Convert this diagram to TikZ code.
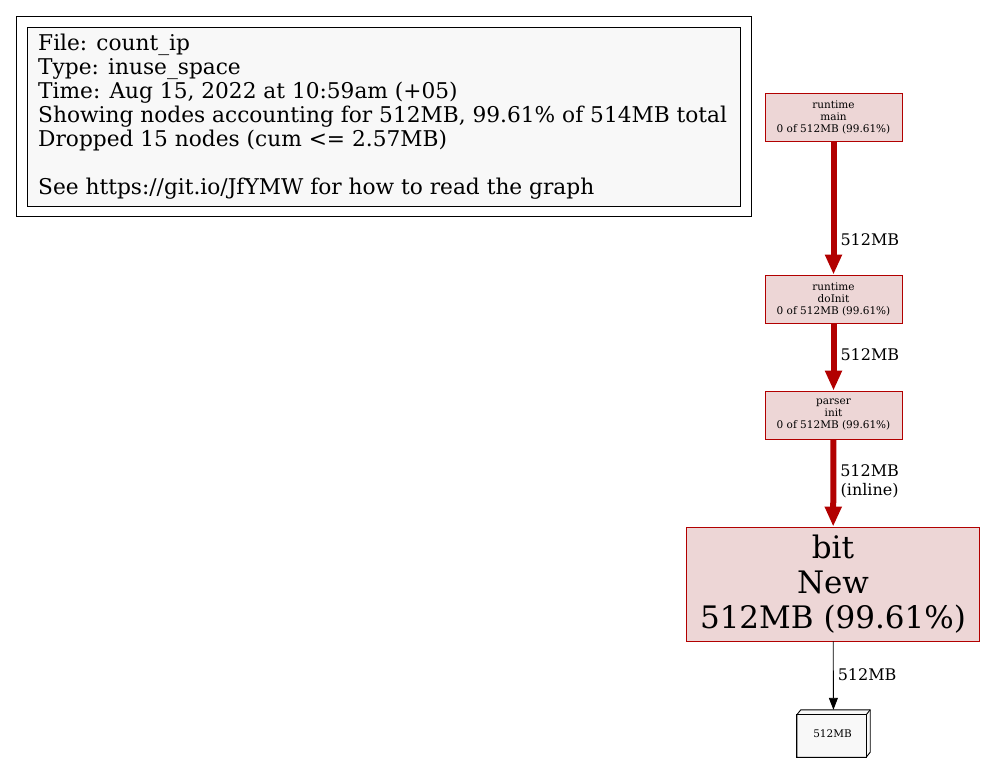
\documentclass[tikz,border=0pt]{standalone}
\usepackage{fontspec}
\setmainfont{DejaVu Serif}
\usetikzlibrary{arrows.meta,calc}
\definecolor{gvred}{HTML}{B20000}
\definecolor{gvfill}{HTML}{EDD6D6}
\definecolor{gvgray}{HTML}{F8F8F8}
\tikzset{
  fnbox/.style={rectangle, draw=gvred, fill=gvfill, line width=0.9pt, inner sep=0pt, align=center},
  smallfn/.style={fnbox, minimum width=137pt, minimum height=48pt, font=\fontsize{10.5}{12}\selectfont},
  heavy/.style={draw=gvred, line width=6pt, -{Triangle[length=20pt,width=16pt]}},
  light/.style={draw=black, line width=0.9pt, -{Triangle[length=12pt,width=9pt]}},
  elabel/.style={anchor=west, inner sep=0pt, xshift=4pt, font=\fontsize{16}{19}\selectfont, align=center, text=black}
}
\begin{document}
\begin{tikzpicture}[x=1pt,y=-1pt]
\useasboundingbox (0,0) rectangle (985,763);
% legend
\node[draw=black, line width=0.9pt, minimum width=735pt, minimum height=200pt, inner sep=0pt, anchor=north west] (legendouter) at (16,16) {};
\node[draw=black, fill=gvgray, line width=0.9pt, minimum width=713pt, minimum height=179pt, inner sep=0pt, anchor=north west] (legendinner) at (27,27) {};
\node[anchor=north west, inner sep=0pt, align=left, font=\fontsize{21.7}{24}\selectfont] (legendtext) at (38,34)
{File: count\_ip\\Type: inuse\_space\\Time: Aug 15, 2022 at 10:59am (+05)\\Showing nodes accounting for 512MB, 99.61\% of 514MB total\\Dropped 15 nodes (cum <= 2.57MB)\\[24pt]See https://git.io/JfYMW for how to read the graph};
% nodes
\node[smallfn] (main) at (833.5,117) {runtime\\main\\0 of 512MB (99.61\%)};
\node[smallfn] (doinit) at (833.5,299) {runtime\\doInit\\0 of 512MB (99.61\%)};
\node[smallfn] (pinit) at (833.5,415) {parser\\init\\0 of 512MB (99.61\%)};
\node[fnbox, minimum width=293pt, minimum height=114pt, font=\fontsize{31}{35}\selectfont] (bitnew) at (833,584) {bit\\New\\512MB (99.61\%)};
\node[inner sep=0pt, minimum width=73pt, minimum height=47pt] (mem) at (833.5,733.5) {};
\filldraw[fill=gvgray, draw=black, line width=0.9pt]
  (mem.south west) -- ($(mem.north west)+(0,5)$) -- ($(mem.north west)+(4,0)$) -- (mem.north east) -- ($(mem.south east)+(0,-5)$) -- ($(mem.south east)+(-4,0)$) -- cycle;
\draw[black, line width=0.9pt] (mem.south west) rectangle ($(mem.north east)+(-4,5)$);
\draw[black, line width=0.9pt] ($(mem.north east)+(-4,5)$) -- (mem.north east);
\node[inner sep=0pt, font=\fontsize{10.5}{12}\selectfont] (memlabel) at ($(mem.center)+(-1,0)$) {512MB};
% edges
\draw[heavy] (main) -- node[elabel, pos=0.74] {512MB} (doinit);
\draw[heavy] (doinit) -- node[elabel, pos=0.47] {512MB} (pinit);
\draw[heavy] (pinit) -- node[elabel, pos=0.48] {512MB\\(inline)} (bitnew);
\draw[light] (bitnew) -- node[elabel, pos=0.48] {512MB} (mem);
\end{tikzpicture}
\end{document}
